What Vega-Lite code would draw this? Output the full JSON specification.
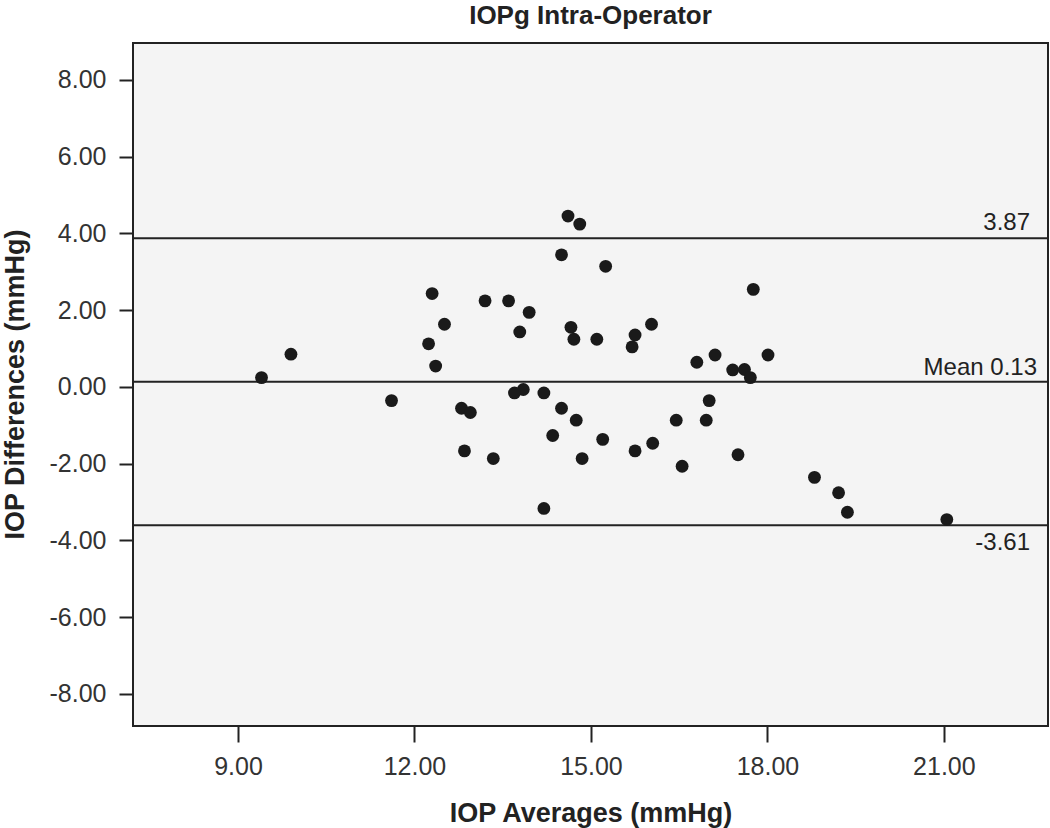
{
  "$schema": "https://vega.github.io/schema/vega-lite/v6.json",
  "autosize": "none",
  "width": 915,
  "height": 683,
  "padding": {"left": 133, "top": 43, "right": 2, "bottom": 102},
  "background": "white",
  "config": {
    "font": "Liberation Sans",
    "view": {"fill": "#f4f4f4", "stroke": "#222222", "strokeWidth": 2}
  },
  "title": {
    "text": "IOPg Intra-Operator",
    "fontSize": 26,
    "fontWeight": "bold",
    "color": "#222222",
    "anchor": "middle",
    "baseline": "alphabetic",
    "offset": -7
  },
  "datasets": {
    "points": [
      {"avg": 14.61, "diff": 4.45}, {"avg": 14.81, "diff": 4.24}, {"avg": 14.50, "diff": 3.44},
      {"avg": 15.25, "diff": 3.14}, {"avg": 12.30, "diff": 2.43}, {"avg": 13.20, "diff": 2.24},
      {"avg": 13.60, "diff": 2.24}, {"avg": 13.95, "diff": 1.94}, {"avg": 12.51, "diff": 1.63},
      {"avg": 13.79, "diff": 1.43}, {"avg": 14.66, "diff": 1.55}, {"avg": 14.71, "diff": 1.24},
      {"avg": 15.10, "diff": 1.24}, {"avg": 15.75, "diff": 1.35}, {"avg": 15.70, "diff": 1.04},
      {"avg": 16.03, "diff": 1.63}, {"avg": 12.24, "diff": 1.12}, {"avg": 12.36, "diff": 0.54},
      {"avg": 9.40, "diff": 0.24}, {"avg": 9.90, "diff": 0.85}, {"avg": 11.61, "diff": -0.36},
      {"avg": 13.85, "diff": -0.07}, {"avg": 13.70, "diff": -0.16}, {"avg": 14.20, "diff": -0.16},
      {"avg": 12.80, "diff": -0.56}, {"avg": 12.95, "diff": -0.67}, {"avg": 14.50, "diff": -0.56},
      {"avg": 14.75, "diff": -0.87}, {"avg": 14.35, "diff": -1.27}, {"avg": 15.20, "diff": -1.37},
      {"avg": 15.75, "diff": -1.67}, {"avg": 12.85, "diff": -1.67}, {"avg": 13.34, "diff": -1.87},
      {"avg": 14.85, "diff": -1.87}, {"avg": 16.05, "diff": -1.47}, {"avg": 14.20, "diff": -3.17},
      {"avg": 16.45, "diff": -0.87}, {"avg": 16.96, "diff": -0.87}, {"avg": 17.01, "diff": -0.36},
      {"avg": 16.55, "diff": -2.07}, {"avg": 17.50, "diff": -1.77}, {"avg": 18.80, "diff": -2.36},
      {"avg": 16.80, "diff": 0.64}, {"avg": 17.11, "diff": 0.83}, {"avg": 17.41, "diff": 0.44},
      {"avg": 17.61, "diff": 0.45}, {"avg": 17.71, "diff": 0.24}, {"avg": 18.01, "diff": 0.83},
      {"avg": 17.76, "diff": 2.54}, {"avg": 19.21, "diff": -2.76}, {"avg": 19.36, "diff": -3.27},
      {"avg": 21.05, "diff": -3.46}
    ],
    "refs": [
      {"value": 3.87, "label": "3.87"},
      {"value": 0.13, "label": "Mean 0.13"},
      {"value": -3.61, "label": "-3.61"}
    ]
  },
  "layer": [
    {
      "data": {"name": "refs"},
      "mark": {"type": "rule", "color": "#222222", "strokeWidth": 2},
      "encoding": {
        "y": {"field": "value", "type": "quantitative", "scale": {"domain": [-8.84, 8.96], "nice": false, "zero": false}}
      }
    },
    {
      "data": {"name": "points"},
      "mark": {"type": "circle", "size": 165, "color": "#1a1a1a", "opacity": 1},
      "encoding": {
        "x": {
          "field": "avg", "type": "quantitative",
          "scale": {"domain": [7.215, 22.77], "nice": false, "zero": false},
          "axis": {
            "title": "IOP Averages (mmHg)",
            "values": [9, 12, 15, 18, 21],
            "labelExpr": "replace(format(datum.value, '.2f'), '−', '-')",
            "grid": false,
            "domain": false,
            "tickSize": 16,
            "tickWidth": 2,
            "tickColor": "#222222",
            "labelFontSize": 25,
            "labelColor": "#333333",
            "labelPadding": 12,
            "titleFontSize": 27,
            "titleFontWeight": "bold",
            "titleColor": "#222222",
            "titleBaseline": "alphabetic",
            "titleY": 95
          }
        },
        "y": {
          "field": "diff", "type": "quantitative",
          "scale": {"domain": [-8.84, 8.96], "nice": false, "zero": false},
          "axis": {
            "title": "IOP Differences (mmHg)",
            "values": [-8, -6, -4, -2, 0, 2, 4, 6, 8],
            "labelExpr": "replace(format(datum.value, '.2f'), '−', '-')",
            "grid": false,
            "domain": false,
            "tickSize": 14,
            "tickWidth": 2,
            "tickColor": "#222222",
            "labelFontSize": 25,
            "labelColor": "#333333",
            "labelPadding": 13,
            "titleFontSize": 27,
            "titleFontWeight": "bold",
            "titleColor": "#222222",
            "titleBaseline": "alphabetic",
            "titleAngle": 270,
            "titleX": -110,
            "titleY": 341
          }
        }
      }
    },
    {
      "data": {"name": "refs"},
      "transform": [{"filter": "datum.label === '3.87'"}],
      "mark": {"type": "text", "align": "right", "baseline": "alphabetic", "dx": -18, "dy": -8, "fontSize": 24, "color": "#222222"},
      "encoding": {
        "x": {"datum": 22.77, "type": "quantitative"},
        "y": {"field": "value", "type": "quantitative"},
        "text": {"field": "label"}
      }
    },
    {
      "data": {"name": "refs"},
      "transform": [{"filter": "datum.label === 'Mean 0.13'"}],
      "mark": {"type": "text", "align": "right", "baseline": "alphabetic", "dx": -11, "dy": -7, "fontSize": 24, "color": "#222222"},
      "encoding": {
        "x": {"datum": 22.77, "type": "quantitative"},
        "y": {"field": "value", "type": "quantitative"},
        "text": {"field": "label"}
      }
    },
    {
      "data": {"name": "refs"},
      "transform": [{"filter": "datum.label === '-3.61'"}],
      "mark": {"type": "text", "align": "right", "baseline": "alphabetic", "dx": -18, "dy": 25, "fontSize": 24, "color": "#222222"},
      "encoding": {
        "x": {"datum": 22.77, "type": "quantitative"},
        "y": {"field": "value", "type": "quantitative"},
        "text": {"field": "label"}
      }
    }
  ]
}
